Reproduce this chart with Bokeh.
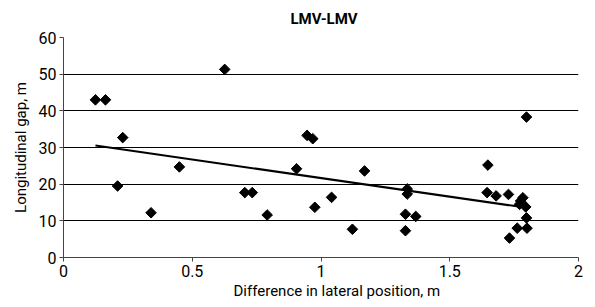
import numpy as np
from bokeh.plotting import figure
from bokeh.models import Range1d, FixedTicker, ColumnDataSource, Title
from bokeh.embed import file_html
from bokeh.resources import INLINE

# Data
lateral_diff = [0.124, 0.163, 0.230, 0.210, 0.340, 0.450, 0.626, 0.704, 0.733, 0.791,
                0.905, 0.946, 0.968, 0.976, 1.041, 1.122, 1.169, 1.328, 1.335, 1.335,
                1.328, 1.368, 1.645, 1.648, 1.680, 1.728, 1.732, 1.762, 1.771, 1.775,
                1.784, 1.795, 1.798, 1.798, 1.800]
long_gap = [43.0, 43.0, 32.7, 19.5, 12.2, 24.7, 51.3, 17.7, 17.7, 11.6,
            24.2, 33.3, 32.4, 13.7, 16.4, 7.7, 23.6, 11.8, 18.7, 17.3,
            7.3, 11.2, 17.7, 25.2, 16.8, 17.2, 5.3, 8.0, 14.5, 15.4,
            16.3, 13.8, 38.3, 10.8, 8.0]

x_ticks = [0, 0.5, 1, 1.5, 2]
x_tick_labels = ["0", "0.5", "1", "1.5", "2"]
y_ticks = [0, 10, 20, 30, 40, 50, 60]

FONT = "Roboto"

p = figure(width=587, height=299, output_backend="svg", toolbar_location=None,
           x_range=Range1d(0, 2), y_range=Range1d(0, 60),
           min_border_left=63, min_border_right=9, min_border_top=37, min_border_bottom=0,
           title="LMV-LMV")
p.outline_line_color = None
p.title.align = "left"
p.title.vertical_align = "top"
p.title.text_font = FONT
p.title.text_font_size = "15px"
p.title.text_font_style = "bold"
p.title.text_color = "black"
p.title.offset = 227
p.title.standoff = 16

p.xaxis.ticker = FixedTicker(ticks=x_ticks)
p.xaxis.major_label_overrides = {t: l for t, l in zip(x_ticks, x_tick_labels)}
p.yaxis.ticker = FixedTicker(ticks=y_ticks)
for ax in (p.xaxis, p.yaxis):
    ax.axis_line_color = "#444444"
    ax.major_tick_line_color = "#444444"
    ax.major_tick_in = 0
    ax.major_tick_out = 4
    ax.minor_tick_line_color = None
    ax.major_label_text_font = FONT
    ax.major_label_text_font_size = "16px"
    ax.major_label_text_color = "black"
    ax.axis_label_text_font = FONT
    ax.axis_label_text_font_size = "15px"
    ax.axis_label_text_font_style = "normal"
    ax.axis_label_text_color = "black"
p.yaxis.axis_label = "Longitudinal gap, m"
p.yaxis.axis_label_standoff = 6
p.xaxis.major_label_standoff = 3
p.yaxis.major_label_standoff = 3

# x axis title, slightly right of centre as in the reference
xtitle = Title(text="Difference in lateral position, m", align="left", offset=170,
               text_font=FONT, text_font_size="15px", text_font_style="normal",
               text_color="black", standoff=0)
p.add_layout(xtitle, "below")

p.xgrid.grid_line_color = None
p.ygrid.grid_line_color = "black"
p.ygrid.grid_line_width = 1

src = ColumnDataSource(dict(x=lateral_diff, y=long_gap))
p.scatter("x", "y", source=src, marker="square", angle=np.pi / 4, size=7.5, color="black")

# Linear trend line (least squares)
slope, intercept = np.polyfit(lateral_diff, long_gap, 1)
xs = np.array([min(lateral_diff), max(lateral_diff)])
p.line(xs, slope * xs + intercept, line_color="black", line_width=2)

open("out.html", "w").write(file_html(p, INLINE))
